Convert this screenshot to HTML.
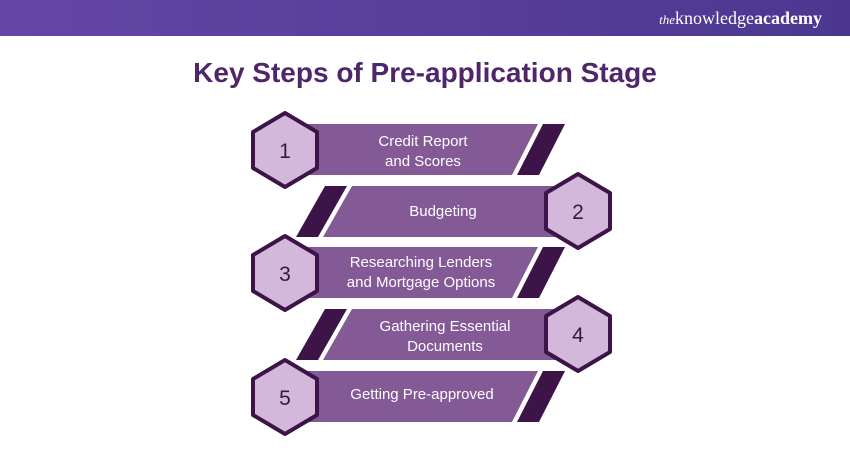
<!DOCTYPE html>
<html><head><style>
body{margin:0;width:850px;height:450px;background:#fff;overflow:hidden;font-family:"Liberation Sans",sans-serif}
.hdr{position:absolute;left:0;top:0;width:850px;height:36px;background:linear-gradient(90deg,#6446a6,#4b3790)}
.logo{position:absolute;right:28px;top:8px;color:#fff;font-family:"Liberation Serif",serif;font-size:18px}
h1{position:absolute;top:57px;left:0;width:850px;text-align:center;margin:0;font-size:28px;color:#4f2669;font-weight:bold}
</style></head><body>
<div class="hdr"><div class="logo"><i style="font-size:13px">the</i>knowledge<b>academy</b></div></div>
<h1>Key Steps of Pre-application Stage</h1>
<svg width="850" height="450" style="position:absolute;left:0;top:0" font-family="Liberation Sans, sans-serif" font-size="15" fill="#fff" stroke-linejoin="round">
<g>
<polygon points="300,124 538,124 512,175 300,175" fill="#835a96"/>
<polygon points="543,124 565,124 539,175 517,175" fill="#3d1447"/>
<polygon points="285,113 317,132 317,168 285,187 253,168 253,132" fill="#d4b8dc" stroke="#3d1447" stroke-width="4"/>
<text x="423" y="146" text-anchor="middle">Credit Report</text><text x="423" y="166" text-anchor="middle">and Scores</text>
<text x="285" y="158" text-anchor="middle" fill="#3d1447" font-size="21">1</text>
</g>
<g>
<polygon points="352,186 560,186 560,237 323,237" fill="#835a96"/>
<polygon points="325,186 347,186 318,237 296,237" fill="#3d1447"/>
<polygon points="578,174 610,193 610,229 578,248 546,229 546,193" fill="#d4b8dc" stroke="#3d1447" stroke-width="4"/>
<text x="443" y="216" text-anchor="middle">Budgeting</text>
<text x="578" y="219" text-anchor="middle" fill="#3d1447" font-size="21">2</text>
</g>
<g>
<polygon points="300,247 538,247 512,298 300,298" fill="#835a96"/>
<polygon points="543,247 565,247 539,298 517,298" fill="#3d1447"/>
<polygon points="285,236 317,255 317,291 285,310 253,291 253,255" fill="#d4b8dc" stroke="#3d1447" stroke-width="4"/>
<text x="421" y="267" text-anchor="middle">Researching Lenders</text><text x="421" y="287" text-anchor="middle">and Mortgage Options</text>
<text x="285" y="281" text-anchor="middle" fill="#3d1447" font-size="21">3</text>
</g>
<g>
<polygon points="352,309 560,309 560,360 323,360" fill="#835a96"/>
<polygon points="325,309 347,309 318,360 296,360" fill="#3d1447"/>
<polygon points="578,297 610,316 610,352 578,371 546,352 546,316" fill="#d4b8dc" stroke="#3d1447" stroke-width="4"/>
<text x="445" y="331" text-anchor="middle">Gathering Essential</text><text x="445" y="351" text-anchor="middle">Documents</text>
<text x="578" y="342" text-anchor="middle" fill="#3d1447" font-size="21">4</text>
</g>
<g>
<polygon points="300,371 538,371 512,422 300,422" fill="#835a96"/>
<polygon points="543,371 565,371 539,422 517,422" fill="#3d1447"/>
<polygon points="285,360 317,379 317,415 285,434 253,415 253,379" fill="#d4b8dc" stroke="#3d1447" stroke-width="4"/>
<text x="422" y="399" text-anchor="middle">Getting Pre-approved</text>
<text x="285" y="405" text-anchor="middle" fill="#3d1447" font-size="21">5</text>
</g>
</svg>
</body></html>
